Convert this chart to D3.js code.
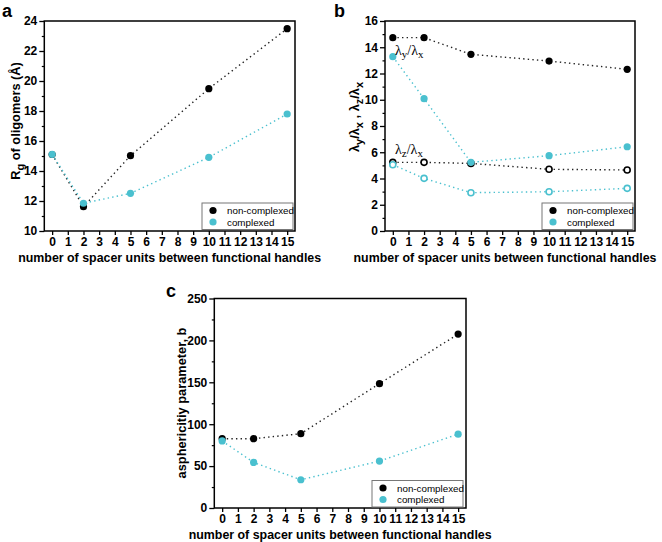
<!DOCTYPE html>
<html><head><meta charset="utf-8">
<script src="https://cdn.jsdelivr.net/npm/d3@7"></script>
<style>body{margin:0;background:#fff}</style>
</head><body><svg id="chart" width="662" height="542"></svg>
<script>
// ---- data ----
const spacerUnits = [0, 2, 5, 10, 15];
const xTickValues = [0, 1, 2, 3, 4, 5, 6, 7, 8, 9, 10, 11, 12, 13, 14, 15];
// panel a: radius of gyration
const rgNonComplexed = [15.1, 11.62, 15.02, 19.49, 23.49];
const rgComplexed = [15.11, 11.85, 12.51, 14.91, 17.8];
const rgTicks = [10, 12, 14, 16, 18, 20, 22, 24];
// panel b: eigenvalue ratios
const lyNonComplexed = [14.73, 14.73, 13.46, 12.95, 12.32];
const lyComplexed = [13.28, 10.08, 5.23, 5.74, 6.42];
const lzNonComplexed = [5.23, 5.23, 5.15, 4.70, 4.65];
const lzComplexed = [5.05, 4.01, 2.92, 2.99, 3.25];
const ratioTicks = [0, 2, 4, 6, 8, 10, 12, 14, 16];
// panel c: asphericity
const bNonComplexed = [82.7, 82.7, 88.7, 148.4, 207.5];
const bComplexed = [80, 54.4, 33.7, 56, 88.1];
const bTicks = [0, 50, 100, 150, 200, 250];
const legendLabels = ['non-complexed', 'complexed'];

const svg = d3.select('#chart');
const CYAN = '#4ac0cf';
const BLACK = '#000';
const FONT = '"Liberation Sans", Arial, sans-serif';

function panel(o) {
  const x = d3.scaleLinear().domain([-0.5, 15.5]).range([o.left, o.right]);
  const y = d3.scaleLinear().domain(o.yDomain).range([o.bottom, o.top]);
  const g = svg.append('g');

  const xa = g.append('g').attr('transform', `translate(0,${o.bottom})`)
    .call(d3.axisBottom(x).tickValues(xTickValues).tickSize(4).tickPadding(2));
  xa.select('.domain').remove();
  xa.selectAll('line').attr('stroke', '#000').attr('stroke-width', 1.3);
  xa.selectAll('text').attr('font-family', FONT).attr('font-weight', 'bold')
    .attr('font-size', 12).attr('fill', '#000');

  const ya = g.append('g').attr('transform', `translate(${o.left},0)`)
    .call(d3.axisLeft(y).tickValues(o.yTicks).tickSize(5).tickPadding(2));
  ya.select('.domain').remove();
  ya.selectAll('line').attr('stroke', '#000').attr('stroke-width', 1.3);
  ya.selectAll('text').attr('font-family', FONT).attr('font-weight', 'bold')
    .attr('font-size', 12).attr('fill', '#000');

  const minor = [];
  for (let i = 0; i < o.yTicks.length - 1; i++) minor.push((o.yTicks[i] + o.yTicks[i + 1]) / 2);
  const ym = g.append('g').attr('transform', `translate(${o.left},0)`)
    .call(d3.axisLeft(y).tickValues(minor).tickSize(2.5).tickFormat(''));
  ym.select('.domain').remove();
  ym.selectAll('line').attr('stroke', '#000').attr('stroke-width', 1.2);

  g.append('rect').attr('x', o.left).attr('y', o.top)
    .attr('width', o.right - o.left).attr('height', o.bottom - o.top)
    .attr('fill', 'none').attr('stroke', '#000').attr('stroke-width', 1.5);

  const line = d3.line().x((d, i) => x(spacerUnits[i])).y(d => y(d));
  o.series.forEach(s => {
    g.append('path').attr('d', line(s.values)).attr('fill', 'none')
      .attr('stroke', s.color === BLACK ? '#222' : CYAN).attr('stroke-width', 1.4)
      .attr('stroke-dasharray', '1.4,3.2');
  });
  o.series.forEach(s => {
    g.selectAll(null).data(s.values).enter().append('circle')
      .attr('cx', (d, i) => x(spacerUnits[i])).attr('cy', d => y(d))
      .attr('r', s.open ? 3 : 3.6)
      .attr('fill', s.open ? '#fff' : s.color)
      .attr('stroke', s.color).attr('stroke-width', s.open ? 1.6 : 0);
  });

  // legend
  const lx = o.right - o.legendDx, ly = o.bottom - o.legendDy;
  g.append('rect').attr('x', lx).attr('y', ly).attr('width', 91).attr('height', 26.5)
    .attr('fill', '#fff').attr('stroke', '#777').attr('stroke-width', 1);
  [BLACK, CYAN].forEach((c, i) => {
    g.append('circle').attr('cx', lx + 11).attr('cy', ly + 7.5 + i * 11.5).attr('r', 3.6).attr('fill', c);
    g.append('text').attr('x', lx + 25).attr('y', ly + 11 + i * 11.5)
      .attr('font-family', FONT).attr('font-size', 9.8).attr('fill', '#000').text(legendLabels[i]);
  });

  // x title
  g.append('text').attr('x', (o.left + o.right) / 2 + o.titleDx).attr('y', o.bottom + 30.5)
    .attr('text-anchor', 'middle').attr('font-family', FONT).attr('font-weight', 'bold')
    .attr('font-size', 12.4).attr('fill', '#000')
    .text('number of spacer units between functional handles');

  // panel letter
  g.append('text').attr('x', o.letterX).attr('y', o.letterY).attr('font-family', FONT)
    .attr('font-weight', 'bold').attr('font-size', 18).attr('fill', '#000').text(o.letter);

  return { g, x, y };
}

// ---- panel a ----
const pa = panel({
  left: 44.3, right: 295, top: 21, bottom: 231, yDomain: [10, 24], yTicks: rgTicks,
  series: [
    { values: rgNonComplexed, color: BLACK },
    { values: rgComplexed, color: CYAN }
  ],
  legendDx: 93, legendDy: 28, titleDx: 0, letter: 'a', letterX: 2, letterY: 17
});
{
  const t = pa.g.append('text').attr('transform', 'translate(20,121) rotate(-90)')
    .attr('text-anchor', 'middle').attr('font-family', FONT).attr('font-weight', 'bold')
    .attr('font-size', 12.8).attr('fill', '#000');
  t.append('tspan').text('R');
  t.append('tspan').attr('dy', 3.5).attr('font-size', 11).text('g');
  t.append('tspan').attr('dy', -3.5).text(' of oligomers (Å)');
}

// ---- panel b ----
const pb = panel({
  left: 385, right: 635, top: 21, bottom: 231, yDomain: [0, 16], yTicks: ratioTicks,
  series: [
    { values: lyNonComplexed, color: BLACK },
    { values: lzNonComplexed, color: BLACK, open: true },
    { values: lyComplexed, color: CYAN },
    { values: lzComplexed, color: CYAN, open: true }
  ],
  legendDx: 93, legendDy: 28, titleDx: -5, letter: 'b', letterX: 334, letterY: 17
});
{
  const t = pb.g.append('text').attr('transform', 'translate(359,117) rotate(-90)')
    .attr('text-anchor', 'middle').attr('font-family', FONT).attr('font-weight', 'bold')
    .attr('font-size', 12.8).attr('fill', '#000');
  const parts = [['λ', 0], ['y', 3.5], ['/λ', -3.5], ['x', 3.5], [' , λ', -3.5], ['z', 3.5], ['/λ', -3.5], ['x', 3.5]];
  parts.forEach(([s, dy], i) => {
    const sp = t.append('tspan').attr('dy', dy).text(s);
    if (i % 2 === 1) sp.attr('font-size', 11);
  });
  const ann = (sub1, yv) => {
    const a = pb.g.append('text').attr('x', 395).attr('y', yv)
      .attr('font-family', '"Liberation Serif", "Times New Roman", serif')
      .attr('font-size', 14).attr('fill', '#000');
    a.append('tspan').text('λ');
    a.append('tspan').attr('dy', 3).attr('font-size', 11).text(sub1);
    a.append('tspan').attr('dy', -3).text('/λ');
    a.append('tspan').attr('dy', 3).attr('font-size', 11).text('x');
  };
  ann('y', 55);
  ann('z', 154);
}

// ---- panel c ----
const pc = panel({
  left: 214.3, right: 466, top: 298.5, bottom: 508, yDomain: [0, 250], yTicks: bTicks,
  series: [
    { values: bNonComplexed, color: BLACK },
    { values: bComplexed, color: CYAN }
  ],
  legendDx: 94, legendDy: 27.5, titleDx: 0, letter: 'c', letterX: 166, letterY: 297
});
pc.g.append('text').attr('transform', 'translate(186,403) rotate(-90)')
  .attr('text-anchor', 'middle').attr('font-family', FONT).attr('font-weight', 'bold')
  .attr('font-size', 12.8).attr('fill', '#000').text('asphericitiy parameter, b');
</script></body></html>
